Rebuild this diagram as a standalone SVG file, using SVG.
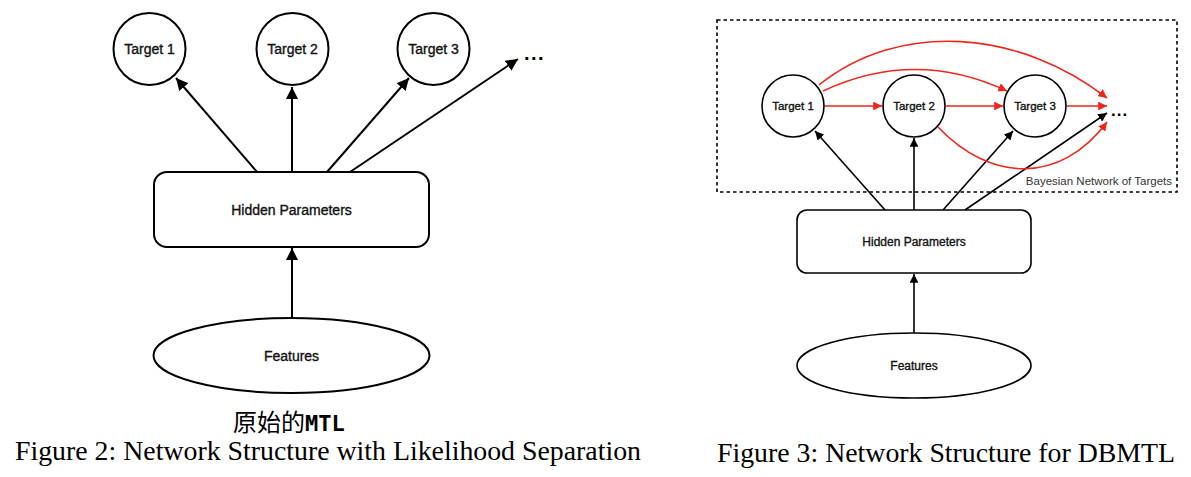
<svg xmlns="http://www.w3.org/2000/svg" width="1191" height="477" viewBox="0 0 1191 477">
<style>
  .node { fill: #fff; stroke: #000; }
  .l { stroke-width: 2; }
  .r { stroke-width: 1.6; }
  .lbl { font-family: "Liberation Sans", Arial, sans-serif; fill: #111; stroke: #111; stroke-width: 0.35; text-anchor: middle; dominant-baseline: central; }
  .blk { stroke: #000; fill: none; }
  .red { stroke: #f0251c; fill: none; stroke-width: 1.6; }
  .cap { font-family: "Liberation Serif", "Times New Roman", serif; fill: #000; font-size: 27.8px; }
  .dots { font-family: "Liberation Sans", Arial, sans-serif; font-weight: bold; fill: #000; }
</style>
<defs>
  <marker id="ahL" viewBox="0 0 10 10" refX="10" refY="5" markerWidth="6" markerHeight="6" orient="auto" markerUnits="strokeWidth">
    <path d="M0,0 L10,5 L0,10 z" fill="#000"/>
  </marker>
  <marker id="ahR" viewBox="0 0 10 10" refX="10" refY="5" markerWidth="5.5" markerHeight="5.5" orient="auto" markerUnits="strokeWidth">
    <path d="M0,0 L10,5 L0,10 z" fill="#000"/>
  </marker>
  <marker id="ahRed" viewBox="0 0 10 10" refX="10" refY="5" markerWidth="5.5" markerHeight="5.5" orient="auto" markerUnits="strokeWidth">
    <path d="M0,0 L10,5 L0,10 z" fill="#f0251c"/>
  </marker>
</defs>

<!-- Left figure -->
<g id="connectors-left">
  <line class="blk l" x1="257" y1="172" x2="176" y2="78" marker-end="url(#ahL)"/>
  <line class="blk l" x1="292" y1="172" x2="292" y2="87" marker-end="url(#ahL)"/>
  <line class="blk l" x1="327" y1="172" x2="409" y2="78" marker-end="url(#ahL)"/>
  <line class="blk l" x1="350" y1="172" x2="518" y2="59" marker-end="url(#ahL)"/>
  <line class="blk l" x1="292" y1="318" x2="292" y2="248" marker-end="url(#ahL)"/>
</g>
<g id="L-target1">
  <circle class="node l" cx="149.5" cy="49" r="36"/>
  <text class="lbl" x="149.5" y="49" font-size="14">Target 1</text>
</g>
<g id="L-target2">
  <circle class="node l" cx="292.5" cy="49" r="36"/>
  <text class="lbl" x="292.5" y="49" font-size="14">Target 2</text>
</g>
<g id="L-target3">
  <circle class="node l" cx="433.5" cy="49" r="36"/>
  <text class="lbl" x="433.5" y="49" font-size="14">Target 3</text>
</g>
<g id="L-more">
  <text class="dots" x="524" y="60" font-size="20" letter-spacing="1.5">...</text>
</g>
<g id="L-hidden">
  <rect class="node l" x="154" y="172" width="275" height="75" rx="13"/>
  <text class="lbl" x="291.5" y="210" font-size="14">Hidden Parameters</text>
</g>
<g id="L-features">
  <ellipse class="node l" cx="291.5" cy="355.5" rx="138" ry="37.5"/>
  <text class="lbl" x="291.5" y="355.5" font-size="14">Features</text>
</g>
<g id="L-caption">
  <text x="233" y="431" font-size="24" font-family="'Noto Sans CJK SC', 'Noto Sans CJK JP', sans-serif">原始的<tspan font-weight="bold" font-family="'DejaVu Sans Mono', 'Noto Sans CJK SC', monospace" font-size="22">MTL</tspan></text>
  <text class="cap" x="15" y="460" textLength="626" lengthAdjust="spacingAndGlyphs">Figure 2: Network Structure with Likelihood Separation</text>
</g>

<!-- Right figure -->
<g id="R-bayes-frame">
  <rect x="717" y="20" width="460" height="172" fill="none" stroke="#000" stroke-width="1.6" stroke-dasharray="3.5,3"/>
  <text x="1172" y="185" font-size="11.5" text-anchor="end" fill="#333" font-family="'Liberation Sans', Arial, sans-serif">Bayesian Network of Targets</text>
</g>
<g id="connectors-right">
  <line class="blk r" x1="885" y1="210" x2="815" y2="131" marker-end="url(#ahR)"/>
  <line class="blk r" x1="914" y1="210" x2="914" y2="138" marker-end="url(#ahR)"/>
  <line class="blk r" x1="943" y1="210" x2="1013" y2="131" marker-end="url(#ahR)"/>
  <line class="blk r" x1="965" y1="210" x2="1107" y2="113" marker-end="url(#ahR)"/>
  <line class="blk r" x1="914" y1="333" x2="914" y2="274" marker-end="url(#ahR)"/>
  <line class="red" x1="825" y1="106" x2="882" y2="106" marker-end="url(#ahRed)"/>
  <line class="red" x1="946" y1="106" x2="1003" y2="106" marker-end="url(#ahRed)"/>
  <line class="red" x1="1067" y1="106" x2="1107" y2="106" marker-end="url(#ahRed)"/>
  <path class="red" d="M823,91 Q915,48 1007,91" marker-end="url(#ahRed)"/>
  <path class="red" d="M819,85 C900,20 1020,30 1107,98" marker-end="url(#ahRed)"/>
  <path class="red" d="M938,127 C990,182 1060,185 1107,122" marker-end="url(#ahRed)"/>
</g>
<g id="R-target1">
  <circle class="node r" cx="793" cy="106" r="31"/>
  <text class="lbl" x="793" y="106" font-size="11.5">Target 1</text>
</g>
<g id="R-target2">
  <circle class="node r" cx="914" cy="106" r="31"/>
  <text class="lbl" x="914" y="106" font-size="11.5">Target 2</text>
</g>
<g id="R-target3">
  <circle class="node r" cx="1035" cy="106" r="31"/>
  <text class="lbl" x="1035" y="106" font-size="11.5">Target 3</text>
</g>
<g id="R-more">
  <text class="dots" x="1111" y="116" font-size="17" letter-spacing="1">...</text>
</g>
<g id="R-hidden">
  <rect class="node r" x="797" y="210" width="234" height="63" rx="10"/>
  <text class="lbl" x="914" y="242" font-size="12">Hidden Parameters</text>
</g>
<g id="R-features">
  <ellipse class="node r" cx="914" cy="365.5" rx="117" ry="32.5"/>
  <text class="lbl" x="914" y="365.5" font-size="12">Features</text>
</g>
<g id="R-caption">
  <text class="cap" x="717" y="462" textLength="458" lengthAdjust="spacingAndGlyphs">Figure 3: Network Structure for DBMTL</text>
</g>
</svg>
